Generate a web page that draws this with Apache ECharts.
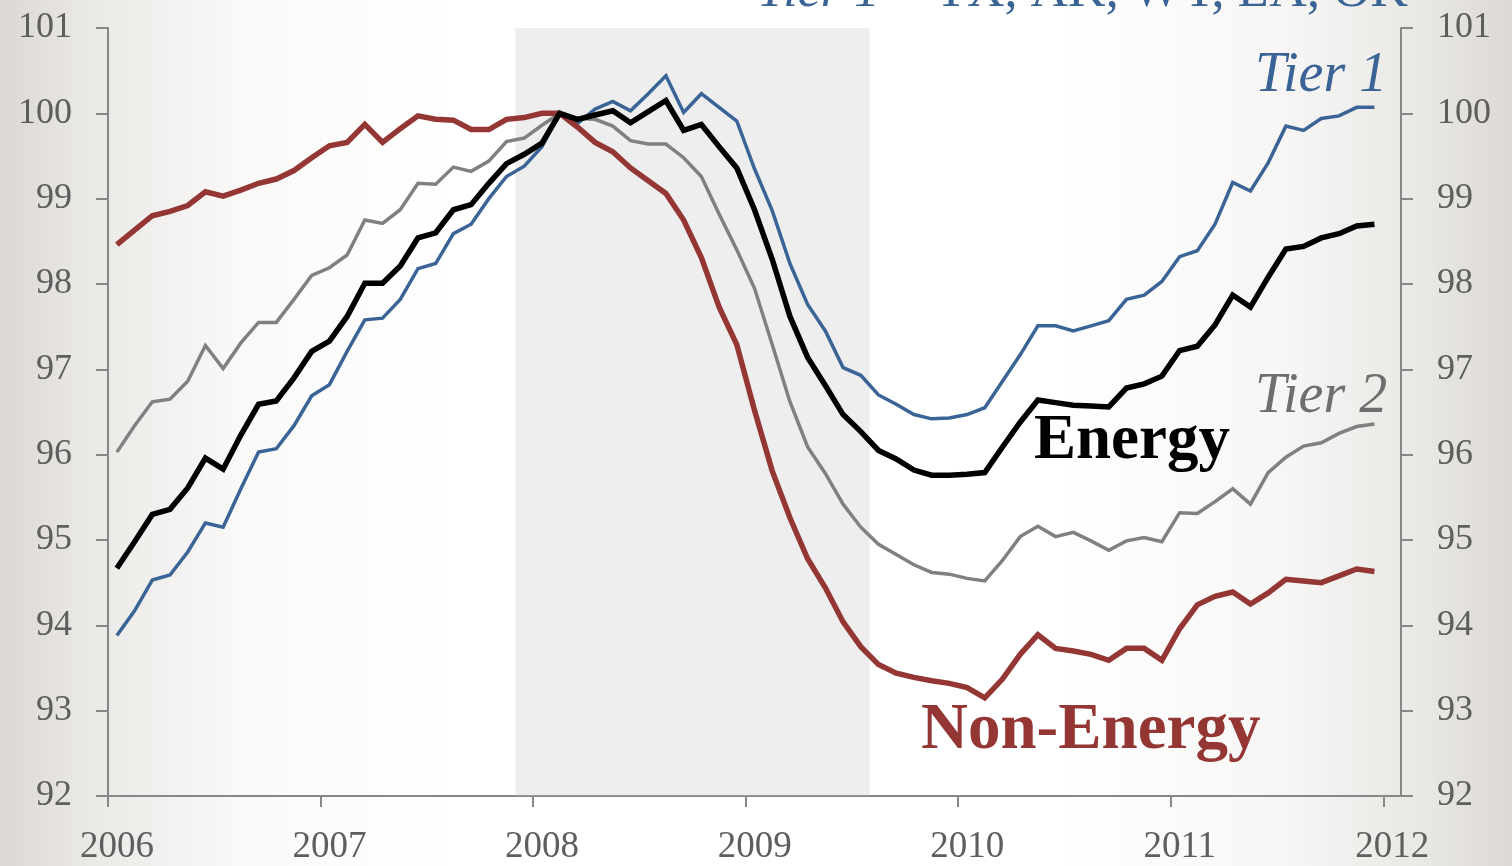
<!DOCTYPE html>
<html>
<head>
<meta charset="utf-8">
<title>Energy vs Non-Energy</title>
<script src="https://cdn.jsdelivr.net/npm/echarts@6/dist/echarts.min.js"></script>
<style>
  html, body { margin: 0; padding: 0; }
  #chart { width: 1512px; height: 866px; }
</style>
</head>
<body>
<div id="chart"></div>
<script>
// x axis: months since Jan 2006, one label per year
const yearLabels = ['2006', '2007', '2008', '2009', '2010', '2011', '2012']
// recession shading, in months since Jan 2006 (Dec 2007 .. Jul 2009)
const recession = [23, 43]

// monthly values, Jan 2006 .. Dec 2011
const tier1 = [
  93.88, 94.17, 94.53, 94.59, 94.86, 95.20, 95.15, 95.60, 96.03, 96.07, 96.34, 96.69,
  96.82, 97.21, 97.58, 97.60, 97.82, 98.18, 98.24, 98.59, 98.70, 99.00, 99.26, 99.38,
  99.61, 100.00, 99.88, 100.05, 100.14, 100.03, 100.23, 100.44, 100.01, 100.23, 100.07, 99.91,
  99.35, 98.86, 98.24, 97.76, 97.45, 97.02, 96.93, 96.70, 96.59, 96.47, 96.42, 96.43,
  96.47, 96.55, 96.86, 97.17, 97.51, 97.51, 97.45, 97.51, 97.57, 97.82, 97.87, 98.03,
  98.32, 98.39, 98.70, 99.19, 99.09, 99.42, 99.85, 99.80, 99.94, 99.97, 100.07, 100.07,
]
const energy = [
  94.67, 94.98, 95.30, 95.36, 95.61, 95.96, 95.83, 96.23, 96.59, 96.63, 96.90, 97.21,
  97.33, 97.62, 98.01, 98.01, 98.21, 98.54, 98.60, 98.87, 98.93, 99.18, 99.41, 99.52,
  99.65, 100.00, 99.93, 99.98, 100.03, 99.89, 100.02, 100.15, 99.80, 99.87, 99.61, 99.36,
  98.87, 98.29, 97.62, 97.14, 96.81, 96.47, 96.27, 96.05, 95.95, 95.82, 95.76, 95.76,
  95.77, 95.79, 96.09, 96.38, 96.64, 96.61, 96.58, 96.57, 96.56, 96.78, 96.83, 96.92,
  97.22, 97.27, 97.52, 97.87, 97.73, 98.08, 98.41, 98.44, 98.54, 98.59, 98.68, 98.70,
]
const tier2 = [
  96.03, 96.34, 96.62, 96.65, 96.86, 97.28, 97.01, 97.31, 97.55, 97.55, 97.82, 98.10,
  98.19, 98.34, 98.75, 98.71, 98.87, 99.18, 99.17, 99.37, 99.32, 99.44, 99.67, 99.71,
  99.86, 100.00, 99.94, 99.93, 99.85, 99.68, 99.64, 99.64, 99.48, 99.26, 98.82, 98.40,
  97.95, 97.29, 96.62, 96.09, 95.78, 95.42, 95.15, 94.95, 94.83, 94.71, 94.62, 94.60,
  94.55, 94.52, 94.76, 95.04, 95.16, 95.04, 95.09, 94.99, 94.88, 94.99, 95.03, 94.98,
  95.32, 95.31, 95.45, 95.60, 95.42, 95.79, 95.97, 96.10, 96.14, 96.25, 96.33, 96.36,
]
const nonEnergy = [
  98.46, 98.63, 98.80, 98.85, 98.92, 99.08, 99.03, 99.10, 99.18, 99.23, 99.33, 99.48,
  99.62, 99.66, 99.87, 99.66, 99.82, 99.97, 99.93, 99.92, 99.81, 99.81, 99.93, 99.95,
  100.00, 100.00, 99.84, 99.66, 99.55, 99.36, 99.21, 99.06, 98.75, 98.31, 97.73, 97.29,
  96.52, 95.81, 95.26, 94.78, 94.44, 94.04, 93.75, 93.54, 93.44, 93.39, 93.35, 93.32,
  93.27, 93.15, 93.37, 93.66, 93.89, 93.73, 93.70, 93.66, 93.59, 93.73, 93.73, 93.59,
  93.96, 94.24, 94.34, 94.39, 94.25, 94.38, 94.54, 94.52, 94.50, 94.58, 94.66, 94.63,
]

const FONT = '"Liberation Serif", "DejaVu Serif", serif'
const AXIS_GRAY = '#878787'
const LABEL_GRAY = '#5e5e5e'

// points sit in the middle of each month
const toPoints = (arr) => arr.map((v, i) => [i + 0.5, v])

const yearTicks = yearLabels.map((y, i) => i * 12)

const yAxisBase = {
  type: 'value',
  min: 92,
  max: 101,
  interval: 1,
  splitLine: { show: false },
  axisLine: { show: true, lineStyle: { color: AXIS_GRAY, width: 2 } },
  axisTick: { show: true, length: 12, lineStyle: { color: AXIS_GRAY, width: 2 } },
  axisLabel: { color: LABEL_GRAY, fontFamily: FONT, fontSize: 36, margin: 36 },
}

const lineSeries = (name, arr, color, width, z) => ({
  name,
  type: 'line',
  data: toPoints(arr),
  symbol: 'none',
  z,
  lineStyle: { color, width, join: 'miter' },
  animation: false,
})

const option = {
  // slide background: white middle, grey towards the side edges
  backgroundColor: {
    type: 'linear',
    x: 0,
    y: 0,
    x2: 1,
    y2: 0,
    colorStops: [
      { offset: 0, color: '#dbd8d3' },
      { offset: 0.06, color: '#ebe9e6' },
      { offset: 0.16, color: '#f9f9f8' },
      { offset: 0.3, color: '#ffffff' },
      { offset: 0.7, color: '#ffffff' },
      { offset: 0.85, color: '#f7f6f5' },
      { offset: 0.95, color: '#e8e6e2' },
      { offset: 1, color: '#dcd9d4' },
    ],
  },
  animation: false,
  grid: { left: 108, right: 111, top: 28, bottom: 69, containLabel: false },
  xAxis: {
    type: 'value',
    min: 0,
    max: 73,
    interval: 12,
    splitLine: { show: false },
    axisLine: { lineStyle: { color: AXIS_GRAY, width: 2 } },
    axisTick: {
      show: true,
      length: 11,
      customValues: yearTicks,
      lineStyle: { color: AXIS_GRAY, width: 2 },
    },
    axisLabel: {
      customValues: yearTicks,
      formatter: (v) => yearLabels[Math.round(v / 12)],
      color: LABEL_GRAY,
      fontFamily: FONT,
      fontSize: 37,
      margin: 33,
      padding: [0, 0, 0, 18],
    },
  },
  yAxis: [
    { ...yAxisBase, position: 'left' },
    { ...yAxisBase, position: 'right' },
  ],
  series: [
    {
      // recession band
      type: 'line',
      data: [],
      z: 1,
      markArea: {
        silent: true,
        itemStyle: { color: 'rgba(200,200,200,0.3)' },
        data: [[{ xAxis: recession[0], yAxis: 101 }, { xAxis: recession[1], yAxis: 92 }]],
      },
    },
    lineSeries('Tier 2', tier2, '#808080', 3.5, 2),
    lineSeries('Tier 1', tier1, '#3a6496', 3.5, 3),
    lineSeries('Non-Energy', nonEnergy, '#943634', 5.5, 4),
    lineSeries('Energy', energy, '#000000', 5.5, 5),
  ],
  graphic: [
    {
      // title, cut off at the top of the slide
      type: 'text',
      right: 104,
      top: -34,
      style: {
        text: '{i|Tier 1} = TX, AK, WY, LA, OK',
        font: '52px ' + FONT,
        fill: '#3a6496',
        rich: { i: { fontStyle: 'italic', fontSize: 52, fontFamily: FONT, fill: '#3a6496' } },
      },
    },
    {
      type: 'text',
      left: 1255,
      top: 48,
      style: { text: 'Tier 1', font: 'italic 56px ' + FONT, fill: '#3a6496' },
    },
    {
      type: 'text',
      left: 1255,
      top: 369,
      style: { text: 'Tier 2', font: 'italic 56px ' + FONT, fill: '#6e6e6e' },
    },
    {
      type: 'text',
      left: 1034,
      top: 410,
      style: { text: 'Energy', font: 'bold 63px ' + FONT, fill: '#000000' },
    },
    {
      type: 'text',
      left: 921,
      top: 699,
      style: { text: 'Non-Energy', font: 'bold 65px ' + FONT, fill: '#943634' },
    },
  ],
}

const chart = echarts.init(document.getElementById('chart'))
chart.setOption(option)
</script>
</body>
</html>
